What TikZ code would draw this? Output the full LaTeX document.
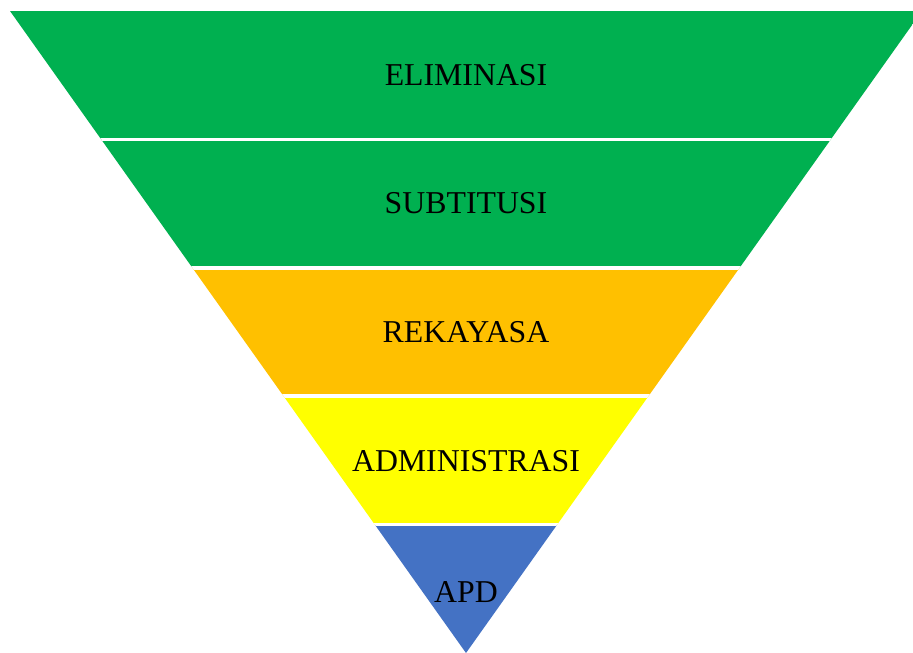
\documentclass[tikz,border=0pt]{standalone}
\usepackage{fontspec}
\setmainfont{Liberation Serif}
\usepackage{xcolor}
\definecolor{bandgreen}{HTML}{00B050}
\definecolor{bandorange}{HTML}{FFC000}
\definecolor{bandyellow}{HTML}{FFFF00}
\definecolor{bandblue}{HTML}{4472C4}
\tikzset{
	level/.style={font=\fontsize{31.8}{36}\selectfont, inner sep=0pt},
	gap/.style={white, line width=3.5pt}
}
\begin{document}
\begin{tikzpicture}[x=1pt, y=-1pt]
	\useasboundingbox[fill=white] (0,0) rectangle (913,653);
	\begin{scope}
		\clip (10,11) -- (922,11) -- (466,653) -- cycle;
		\foreach \c [count=\i from 0] in {bandgreen,bandgreen,bandorange,bandyellow,bandblue}
		{
			\pgfmathsetmacro{\ya}{11+128.4*\i};
			\pgfmathsetmacro{\yb}{11+128.4*(\i+1)};
			\fill[\c] (0,\ya) rectangle (930,\yb);
		}
		\foreach \i in {1,...,4}
		{
			\pgfmathsetmacro{\yi}{11+128.4*\i};
			\draw[gap] (0,\yi) -- (930,\yi);
		}
	\end{scope}
	\node[level] (elim) at (466,75) {ELIMINASI};
	\node[level] (subs) at (466,203.5) {SUBTITUSI};
	\node[level] (reka) at (466,332) {REKAYASA};
	\node[level] (admin) at (466,461) {ADMINISTRASI};
	\node[level] (apd) at (466,592) {APD};
\end{tikzpicture}
\end{document}
